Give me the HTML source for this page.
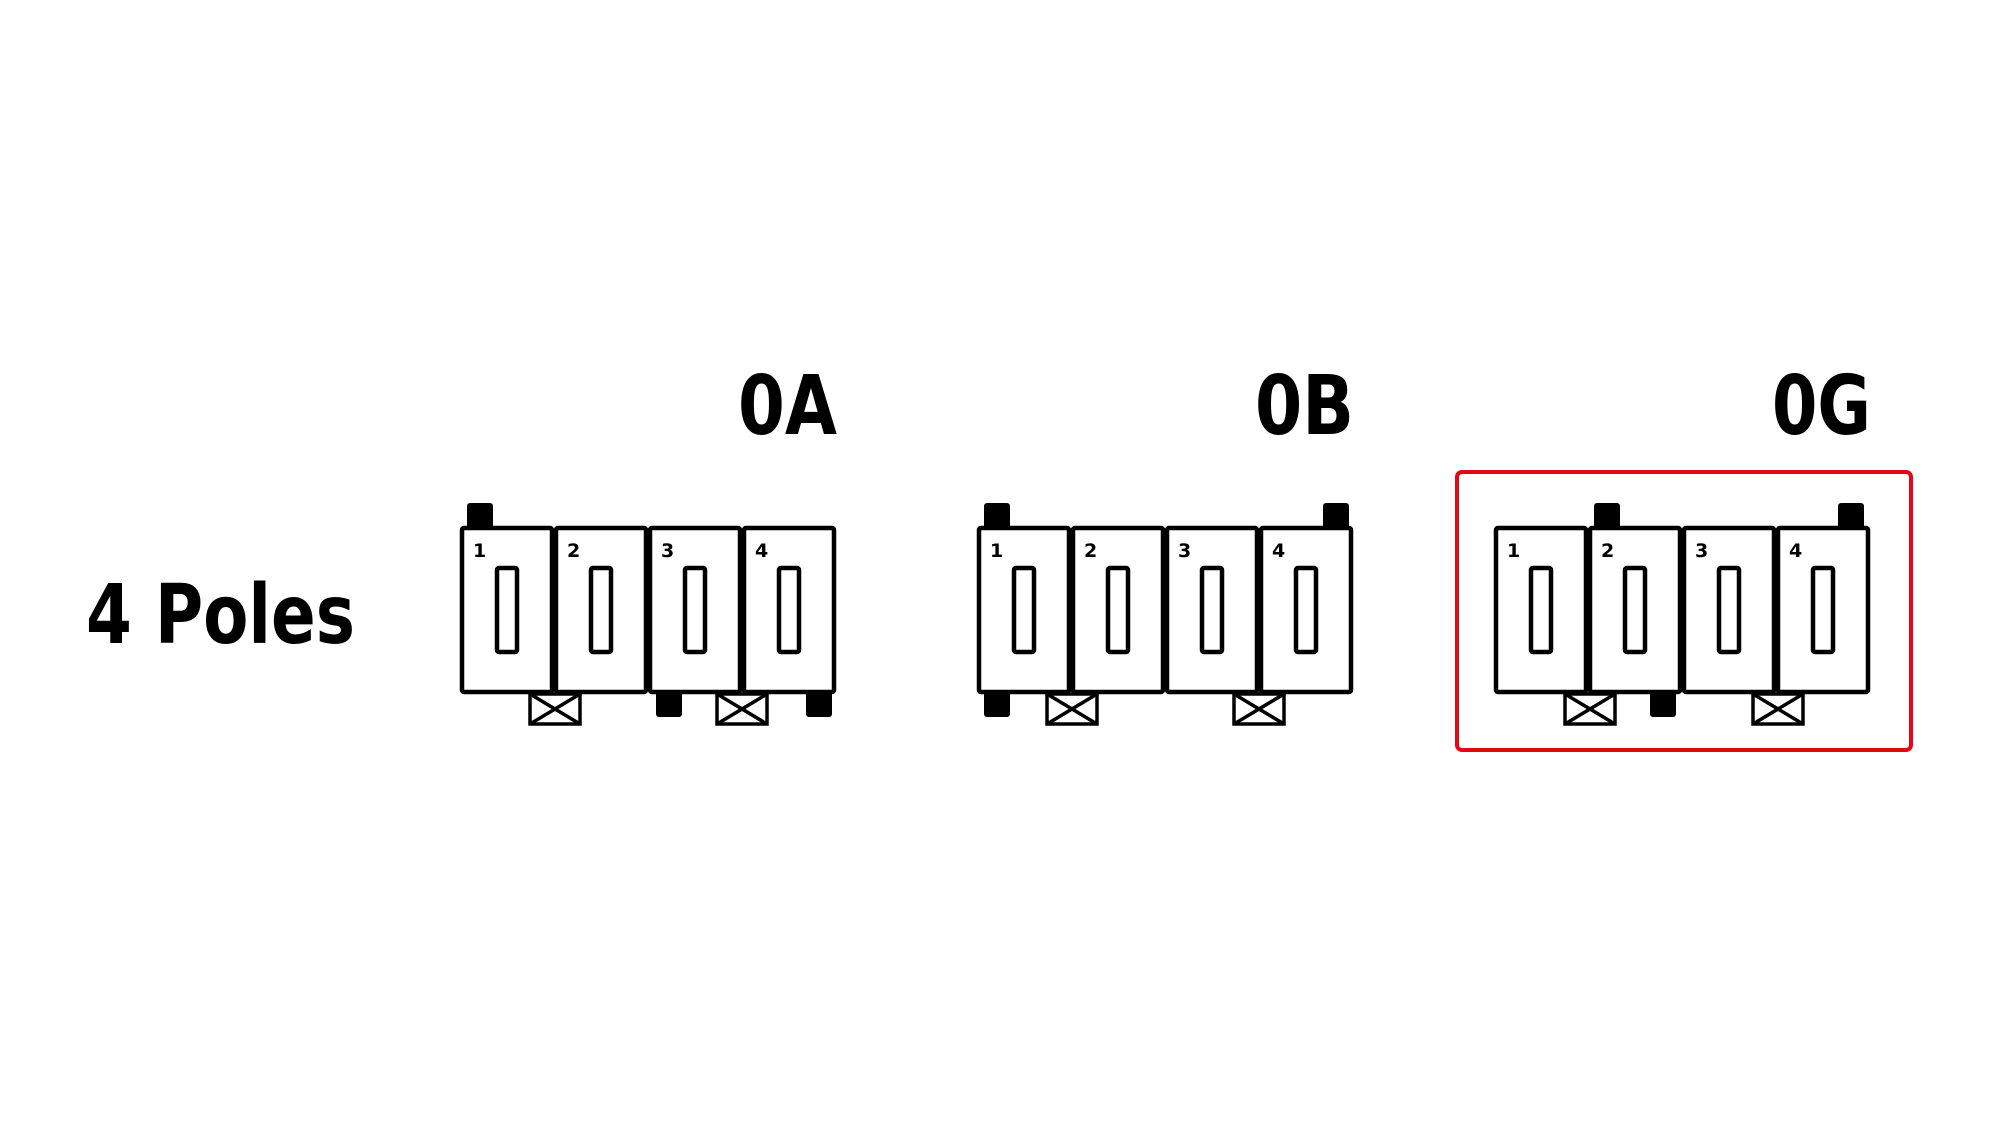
<!DOCTYPE html>
<html><head><meta charset="utf-8"><style>
html,body{margin:0;padding:0;background:#fff;}
svg{display:block;}
text{font-family:"DejaVu Sans","Liberation Sans",sans-serif;font-weight:bold;fill:#000;}
</style></head><body>
<svg width="2000" height="1125" viewBox="0 0 2000 1125" xmlns="http://www.w3.org/2000/svg">
<defs>
<g id="mods">
  <g fill="#fff" stroke="#000" stroke-width="4.5" stroke-linejoin="round">
    <rect x="2" y="0" width="90" height="164" rx="2"/>
    <rect x="96" y="0" width="90" height="164" rx="2"/>
    <rect x="190" y="0" width="90" height="164" rx="2"/>
    <rect x="284" y="0" width="90" height="164" rx="2"/>
    <rect x="37" y="40" width="20" height="84" rx="2"/>
    <rect x="131" y="40" width="20" height="84" rx="2"/>
    <rect x="225" y="40" width="20" height="84" rx="2"/>
    <rect x="319" y="40" width="20" height="84" rx="2"/>
  </g>
  <g font-size="19" style="font-family:'DejaVu Sans',sans-serif;font-weight:bold">
    <text x="13" y="29">1</text><text x="107" y="29">2</text><text x="201" y="29">3</text><text x="295" y="29">4</text>
  </g>
</g>
<g id="cross" fill="#fff" stroke="#000" stroke-width="3.5">
  <rect x="-25" y="166" width="50" height="30"/>
  <path d="M-25 166 L25 196 M25 166 L-25 196" fill="none"/>
</g>
<rect id="tt" x="0" y="-25" width="26" height="27" rx="3" fill="#000"/>
<rect id="bt" x="0" y="162" width="26" height="27" rx="3" fill="#000"/>
</defs>

<text x="86" y="643" font-size="82" textLength="269" lengthAdjust="spacingAndGlyphs">4 Poles</text>

<!-- OA -->
<text x="738" y="434" font-size="82" textLength="99" lengthAdjust="spacingAndGlyphs">0A</text>
<g transform="translate(460,528)">
  <use href="#tt" x="7"/>
  <use href="#mods"/>
  <use href="#cross" x="95"/>
  <use href="#bt" x="196"/>
  <use href="#cross" x="282"/>
  <use href="#bt" x="346"/>
</g>

<!-- OB -->
<text x="1255" y="434" font-size="82" textLength="99" lengthAdjust="spacingAndGlyphs">0B</text>
<g transform="translate(977,528)">
  <use href="#tt" x="7"/>
  <use href="#tt" x="346"/>
  <use href="#mods"/>
  <use href="#bt" x="7"/>
  <use href="#cross" x="95"/>
  <use href="#cross" x="282"/>
</g>

<!-- OG -->
<rect x="1457" y="472" width="454" height="278" rx="5" fill="none" stroke="#e30613" stroke-width="4"/>
<text x="1772" y="434" font-size="82" textLength="99" lengthAdjust="spacingAndGlyphs">0G</text>
<g transform="translate(1494,528)">
  <use href="#tt" x="100"/>
  <use href="#tt" x="344"/>
  <use href="#mods"/>
  <use href="#cross" x="96"/>
  <use href="#bt" x="156"/>
  <use href="#cross" x="284"/>
</g>
</svg>
</body></html>
